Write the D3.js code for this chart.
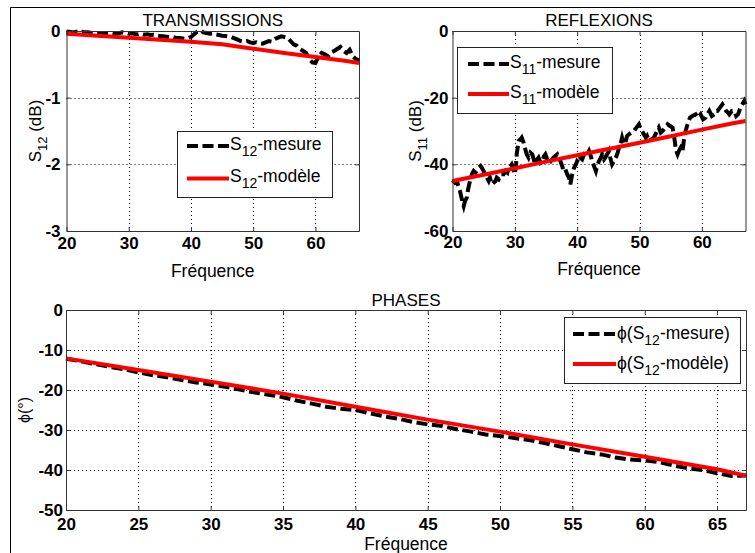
<!DOCTYPE html>
<html lang="fr">
<head>
<meta charset="utf-8">
<style>
  body { margin: 0; background: #fff; }
  text { font-family: "Liberation Sans", Arial, Helvetica, sans-serif; fill: #000; }
</style>
</head>
<body>
<script src="https://d3js.org/d3.v7.min.js"></script>
<script>
// --- transmissions (S12, dB)
const freqS12 = [20,20.5,21,21.5,22,22.5,23,23.5,24,24.5,25,25.5,26,26.5,27,27.5,28,28.5,29,29.5,
  30,30.5,31,31.5,32,32.5,33,33.5,34,34.5,35,35.5,36,36.5,37,37.5,38,38.5,39,39.5,
  40,40.5,41,41.5,42,42.5,43,43.5,44,44.5,45,45.5,46,46.5,47,47.5,48,48.5,49,49.5,
  50,50.5,51,51.5,52,52.5,53,53.5,54,54.5,55,55.5,56,56.5,57,57.5,58,58.5,59,59.5,
  60,60.5,61,61.5,62,62.5,63,63.5,64,64.5,65,65.5,66,66.5,67];
const s12Mesure = [-0.01,-0.01,-0.02,-0.01,-0.015,-0.01,-0.02,-0.02,-0.03,-0.03,
  -0.035,-0.03,-0.04,-0.035,-0.03,-0.04,-0.035,-0.03,-0.02,-0.03,
  -0.04,-0.035,-0.045,-0.05,-0.04,-0.055,-0.05,-0.06,-0.055,-0.07,
  -0.075,-0.08,-0.085,-0.09,-0.085,-0.1,-0.105,-0.11,-0.115,-0.11,
  -0.09,-0.05,-0.01,0.01,-0.02,-0.03,-0.04,-0.035,-0.05,-0.06,
  -0.07,-0.075,-0.08,-0.09,-0.11,-0.13,-0.15,-0.16,-0.15,-0.17,
  -0.18,-0.17,-0.185,-0.19,-0.17,-0.15,-0.16,-0.12,-0.1,-0.08,
  -0.09,-0.1,-0.15,-0.2,-0.22,-0.27,-0.3,-0.33,-0.42,-0.47,
  -0.48,-0.38,-0.33,-0.35,-0.38,-0.32,-0.3,-0.27,-0.24,-0.3,
  -0.33,-0.28,-0.38,-0.42,-0.44];
const freqModel = [20,25,30,35,40,45,50,55,60,65,67];
const s12Modele = [-0.04,-0.07,-0.10,-0.13,-0.16,-0.2,-0.265,-0.33,-0.39,-0.45,-0.48];

// --- reflexions (S11, dB)
const freqS11 = [20,20.4,20.7,21.0,21.2,21.5,21.8,22.0,22.3,22.5,
  22.8,23.1,23.4,23.7,24.0,24.2,24.5,24.7,25.0,25.2,
  25.5,25.8,26.0,26.3,26.6,26.9,27.1,27.4,27.8,28.2,
  28.5,28.8,29.0,29.3,29.5,29.8,30.0,30.2,30.3,30.6,
  30.9,31.1,31.4,31.6,31.9,32.2,32.5,32.8,33.1,33.3,
  33.6,33.8,34.1,34.4,34.7,34.9,35.2,35.4,35.8,36.2,
  36.5,36.8,37.0,37.3,37.6,37.8,38.1,38.4,38.7,38.9,
  39.2,39.5,39.8,40.0,40.3,40.5,40.8,41.1,41.5,41.9,
  42.1,42.4,42.7,43.0,43.2,43.5,43.8,44.0,44.3,44.5,
  44.8,45.1,45.3,45.6,45.9,46.2,46.5,46.7,47.0,47.2,
  47.5,47.8,48.0,48.3,48.7,49.1,49.5,49.9,50.1,50.4,
  50.7,51.0,51.2,51.5,51.9,52.3,52.7,53.1,53.4,53.7,
  54.1,54.5,54.9,55.3,55.5,55.8,56.0,56.1,56.3,56.6,
  56.9,57.1,57.4,57.7,57.9,58.1,58.5,59.0,59.4,59.8,
  60.2,60.6,60.9,61.2,61.6,62.0,62.2,62.5,62.9,63.3,
  63.6,63.9,64.2,64.4,64.8,65.2,65.5,65.8,66.0,66.2,
  66.5,66.8,67.0];
const s11Mesure = [-44.8,-45.5,-45,-47,-48,-50.5,-52.5,-51,-50,-47.5,
  -45,-43,-42,-42.5,-41.5,-41,-40.5,-41,-42,-43,
  -44,-45,-44,-46,-45.5,-45,-44,-44.5,-43,-43,
  -42,-42.5,-41,-40.5,-40,-41.5,-43,-40,-37,-33,
  -32.5,-32,-33.5,-35,-37,-38,-36.5,-37,-39,-40,
  -38.5,-38,-39.5,-39,-37.5,-37,-38.5,-38,-39,-38,
  -37.5,-37,-38,-39,-40.5,-42,-41.5,-43,-44,-46,
  -43,-41,-40,-39,-39.5,-38,-38.5,-37,-37.5,-36,
  -37,-39,-40.5,-42,-40.5,-39,-38,-37,-38.5,-38,
  -37,-36,-38,-40,-39,-38,-36.5,-35,-33.5,-32,
  -34,-33,-31.5,-31,-30.5,-30,-29,-28,-29,-30,
  -31,-32,-31.5,-33,-32.5,-32,-30.5,-29,-30.5,-30,
  -29,-28,-28.5,-29,-31,-35,-36.5,-37,-36,-35,
  -36,-33,-30,-28,-27,-26,-25.5,-25,-26,-25,
  -26.5,-26,-25,-24,-25.5,-25,-24,-24,-23,-22,
  -23,-24,-24.5,-25,-24,-24,-25.5,-25,-24,-23,
  -22,-21,-22];
const s11Modele = [-45,-43.1,-41.2,-39.2,-37.3,-35.4,-33.5,-31.6,-29.6,-27.7,-27];

// --- phases (degrees)
const freqPhase = [20,21,22,23,24,25,26,27,28,29,30,31,32,33,34,35,36,37,38,39,
  40,41,42,43,44,45,46,47,48,49,50,51,52,53,54,55,56,57,58,59,60,61,62,63,64,65,66,67];
const phaseMesure = [-12.2,-12.8,-13.5,-14.2,-14.8,-15.6,-16.3,-16.8,-17.5,-18.1,
  -18.6,-19.2,-19.9,-20.6,-21.2,-21.8,-22.7,-23.4,-24.2,-24.7,
  -25.0,-25.8,-26.6,-27.2,-28.0,-28.6,-29.0,-29.8,-30.4,-31.1,
  -31.5,-32.0,-32.5,-33.2,-34.0,-34.8,-35.6,-36.1,-36.9,-37.4,
  -37.6,-38.0,-38.9,-39.6,-40.0,-40.8,-41.5,-41.4];
const phaseModele = [-12.1,-15.0,-17.9,-20.9,-24.2,-27.4,-30.4,-33.6,-36.7,-39.8,-41.4];

const xTicksTop = [20,30,40,50,60];
const xTicksBottom = [20,25,30,35,40,45,50,55,60,65];
const yTicksS12 = [0,-1,-2,-3];
const yTicksS11 = [0,-20,-40,-60];
const yTicksPhase = [0,-10,-20,-30,-40,-50];

const W = 755, H = 553;
const svg = d3.select("body").append("svg").attr("width", W).attr("height", H);

// figure frame
svg.append("path").attr("d", "M10.5," + H + "V7.5H" + W)
  .attr("fill", "none").attr("stroke", "#000");

function zip(xs, ys) { return xs.map((x, i) => [x, ys[i]]); }

function panel(c) {
  const x = d3.scaleLinear().domain([20, 67]).range([c.left, c.right]);
  const y = d3.scaleLinear().domain(c.yDomain).range([c.bottom, c.top]);
  const g = svg.append("g");

  // grid
  g.selectAll(".gx").data(c.xTicks.filter(t => t > 20)).enter().append("line")
    .attr("x1", d => Math.round(x(d)) + 0.5).attr("x2", d => Math.round(x(d)) + 0.5)
    .attr("y1", c.top).attr("y2", c.bottom)
    .attr("stroke", "#000").attr("stroke-dasharray", "1,3");
  g.selectAll(".gy").data(c.yTicks.filter(t => t > c.yDomain[0] && t < c.yDomain[1])).enter().append("line")
    .attr("y1", d => Math.round(y(d)) + 0.5).attr("y2", d => Math.round(y(d)) + 0.5)
    .attr("x1", c.left).attr("x2", c.right)
    .attr("stroke", "#000").attr("stroke-dasharray", "1,3");

  const line = d3.line().x(d => x(d[0])).y(d => y(d[1]));
  g.append("path").datum(zip(c.mx, c.my)).attr("d", line)
    .attr("fill", "none").attr("stroke", "#000").attr("stroke-width", 4)
    .attr("stroke-dasharray", "11,4.5");
  g.append("path").datum(zip(freqModel, c.model)).attr("d", line)
    .attr("fill", "none").attr("stroke", "#ff0000").attr("stroke-width", 4);

  // axes
  const fmt = d => String(d);
  const axes = [
    [d3.axisBottom(x).tickValues(c.xTicks).tickFormat(fmt).tickPadding(c.xPad), "translate(0," + c.bottom + ")"],
    [d3.axisTop(x).tickValues(c.xTicks).tickFormat(""), "translate(0," + c.top + ")"],
    [d3.axisLeft(y).tickValues(c.yTicks).tickFormat(fmt).tickPadding(c.yPad), "translate(" + c.left + ",0)"],
    [d3.axisRight(y).tickValues(c.yTicks).tickFormat(""), "translate(" + c.right + ",0)"]
  ];
  axes.forEach(([ax, tr]) => {
    const a = g.append("g").attr("transform", tr)
      .call(ax.tickSizeInner(-4).tickSizeOuter(0));
    a.select(".domain").attr("stroke", "#333");
    a.selectAll(".tick line").attr("stroke", "#333");
    a.selectAll("text").attr("font-size", 17).attr("font-weight", "bold")
      .attr("font-family", "'Liberation Sans', Arial, sans-serif").attr("fill", "#000");
  });

  // title and x label
  const cx = (c.left + c.right) / 2;
  g.append("text").attr("x", cx).attr("y", c.titleY).attr("text-anchor", "middle")
    .attr("font-size", 17).text(c.title);
  g.append("text").attr("x", cx).attr("y", c.xLabelY).attr("text-anchor", "middle")
    .attr("font-size", 17.5).text("Fréquence");

  // y label
  const yl = g.append("text")
    .attr("transform", "translate(" + c.yLabelX + "," + ((c.top + c.bottom) / 2) + ") rotate(-90)")
    .attr("text-anchor", "middle").attr("font-size", 17);
  c.yLabel(yl);

  // legend
  const L = c.legend;
  g.append("rect").attr("x", L.x + 0.5).attr("y", L.y + 0.5).attr("width", L.w).attr("height", L.h)
    .attr("fill", "#fff").attr("stroke", "#222");
  L.rows.forEach((r, i) => {
    g.append("line").attr("x1", L.lx1).attr("x2", L.lx2).attr("y1", r.ly).attr("y2", r.ly)
      .attr("stroke", i === 0 ? "#000" : "#ff0000").attr("stroke-width", 4)
      .attr("stroke-dasharray", i === 0 ? "11,4.5" : null);
    const t = g.append("text").attr("x", L.tx).attr("y", r.by).attr("font-size", 17.5);
    t.append("tspan").text(r.pre);
    t.append("tspan").attr("font-size", 14).attr("dy", 6).text(r.sub);
    t.append("tspan").attr("dy", -6).text(r.post);
  });
}

function sLabel(sub) {
  return t => {
    t.append("tspan").text("S");
    t.append("tspan").attr("font-size", 13).attr("dy", 6).text(sub);
    t.append("tspan").attr("dy", -6).text(" (dB)");
  };
}

panel({
  left: 66.5, right: 359, top: 31, bottom: 231, yDomain: [-3, 0],
  xTicks: xTicksTop, yTicks: yTicksS12, xPad: 6, yPad: 6,
  mx: freqS12, my: s12Mesure, model: s12Modele,
  title: "TRANSMISSIONS", titleY: 26, xLabelY: 277,
  yLabelX: 41, yLabel: sLabel("12"),
  legend: { x: 177, y: 131, w: 155, h: 66, lx1: 187, lx2: 229, tx: 230,
    rows: [{ ly: 146, by: 150, pre: "S", sub: "12", post: "-mesure" },
           { ly: 178.5, by: 182, pre: "S", sub: "12", post: "-modèle" }] }
});

panel({
  left: 452.5, right: 745.5, top: 31, bottom: 231, yDomain: [-60, 0],
  xTicks: xTicksTop, yTicks: yTicksS11, xPad: 5, yPad: 4,
  mx: freqS11, my: s11Mesure, model: s11Modele,
  title: "REFLEXIONS", titleY: 26, xLabelY: 275,
  yLabelX: 421, yLabel: sLabel("11"),
  legend: { x: 457, y: 47, w: 155, h: 66, lx1: 468, lx2: 509, tx: 510,
    rows: [{ ly: 64, by: 68, pre: "S", sub: "11", post: "-mesure" },
           { ly: 94, by: 98, pre: "S", sub: "11", post: "-modèle" }] }
});

panel({
  left: 66, right: 746, top: 310, bottom: 510, yDomain: [-50, 0],
  xTicks: xTicksBottom, yTicks: yTicksPhase, xPad: 8, yPad: 3,
  mx: freqPhase, my: phaseMesure, model: phaseModele,
  title: "PHASES", titleY: 306, xLabelY: 550,
  yLabelX: 30, yLabel: t => t.attr("font-size", 16).text("ϕ(°)"),
  legend: { x: 564, y: 317, w: 176, h: 66, lx1: 573, lx2: 616, tx: 617,
    rows: [{ ly: 334, by: 339, pre: "ϕ(S", sub: "12", post: "-mesure)" },
           { ly: 364, by: 369, pre: "ϕ(S", sub: "12", post: "-modèle)" }] }
});
</script>
</body>
</html>
